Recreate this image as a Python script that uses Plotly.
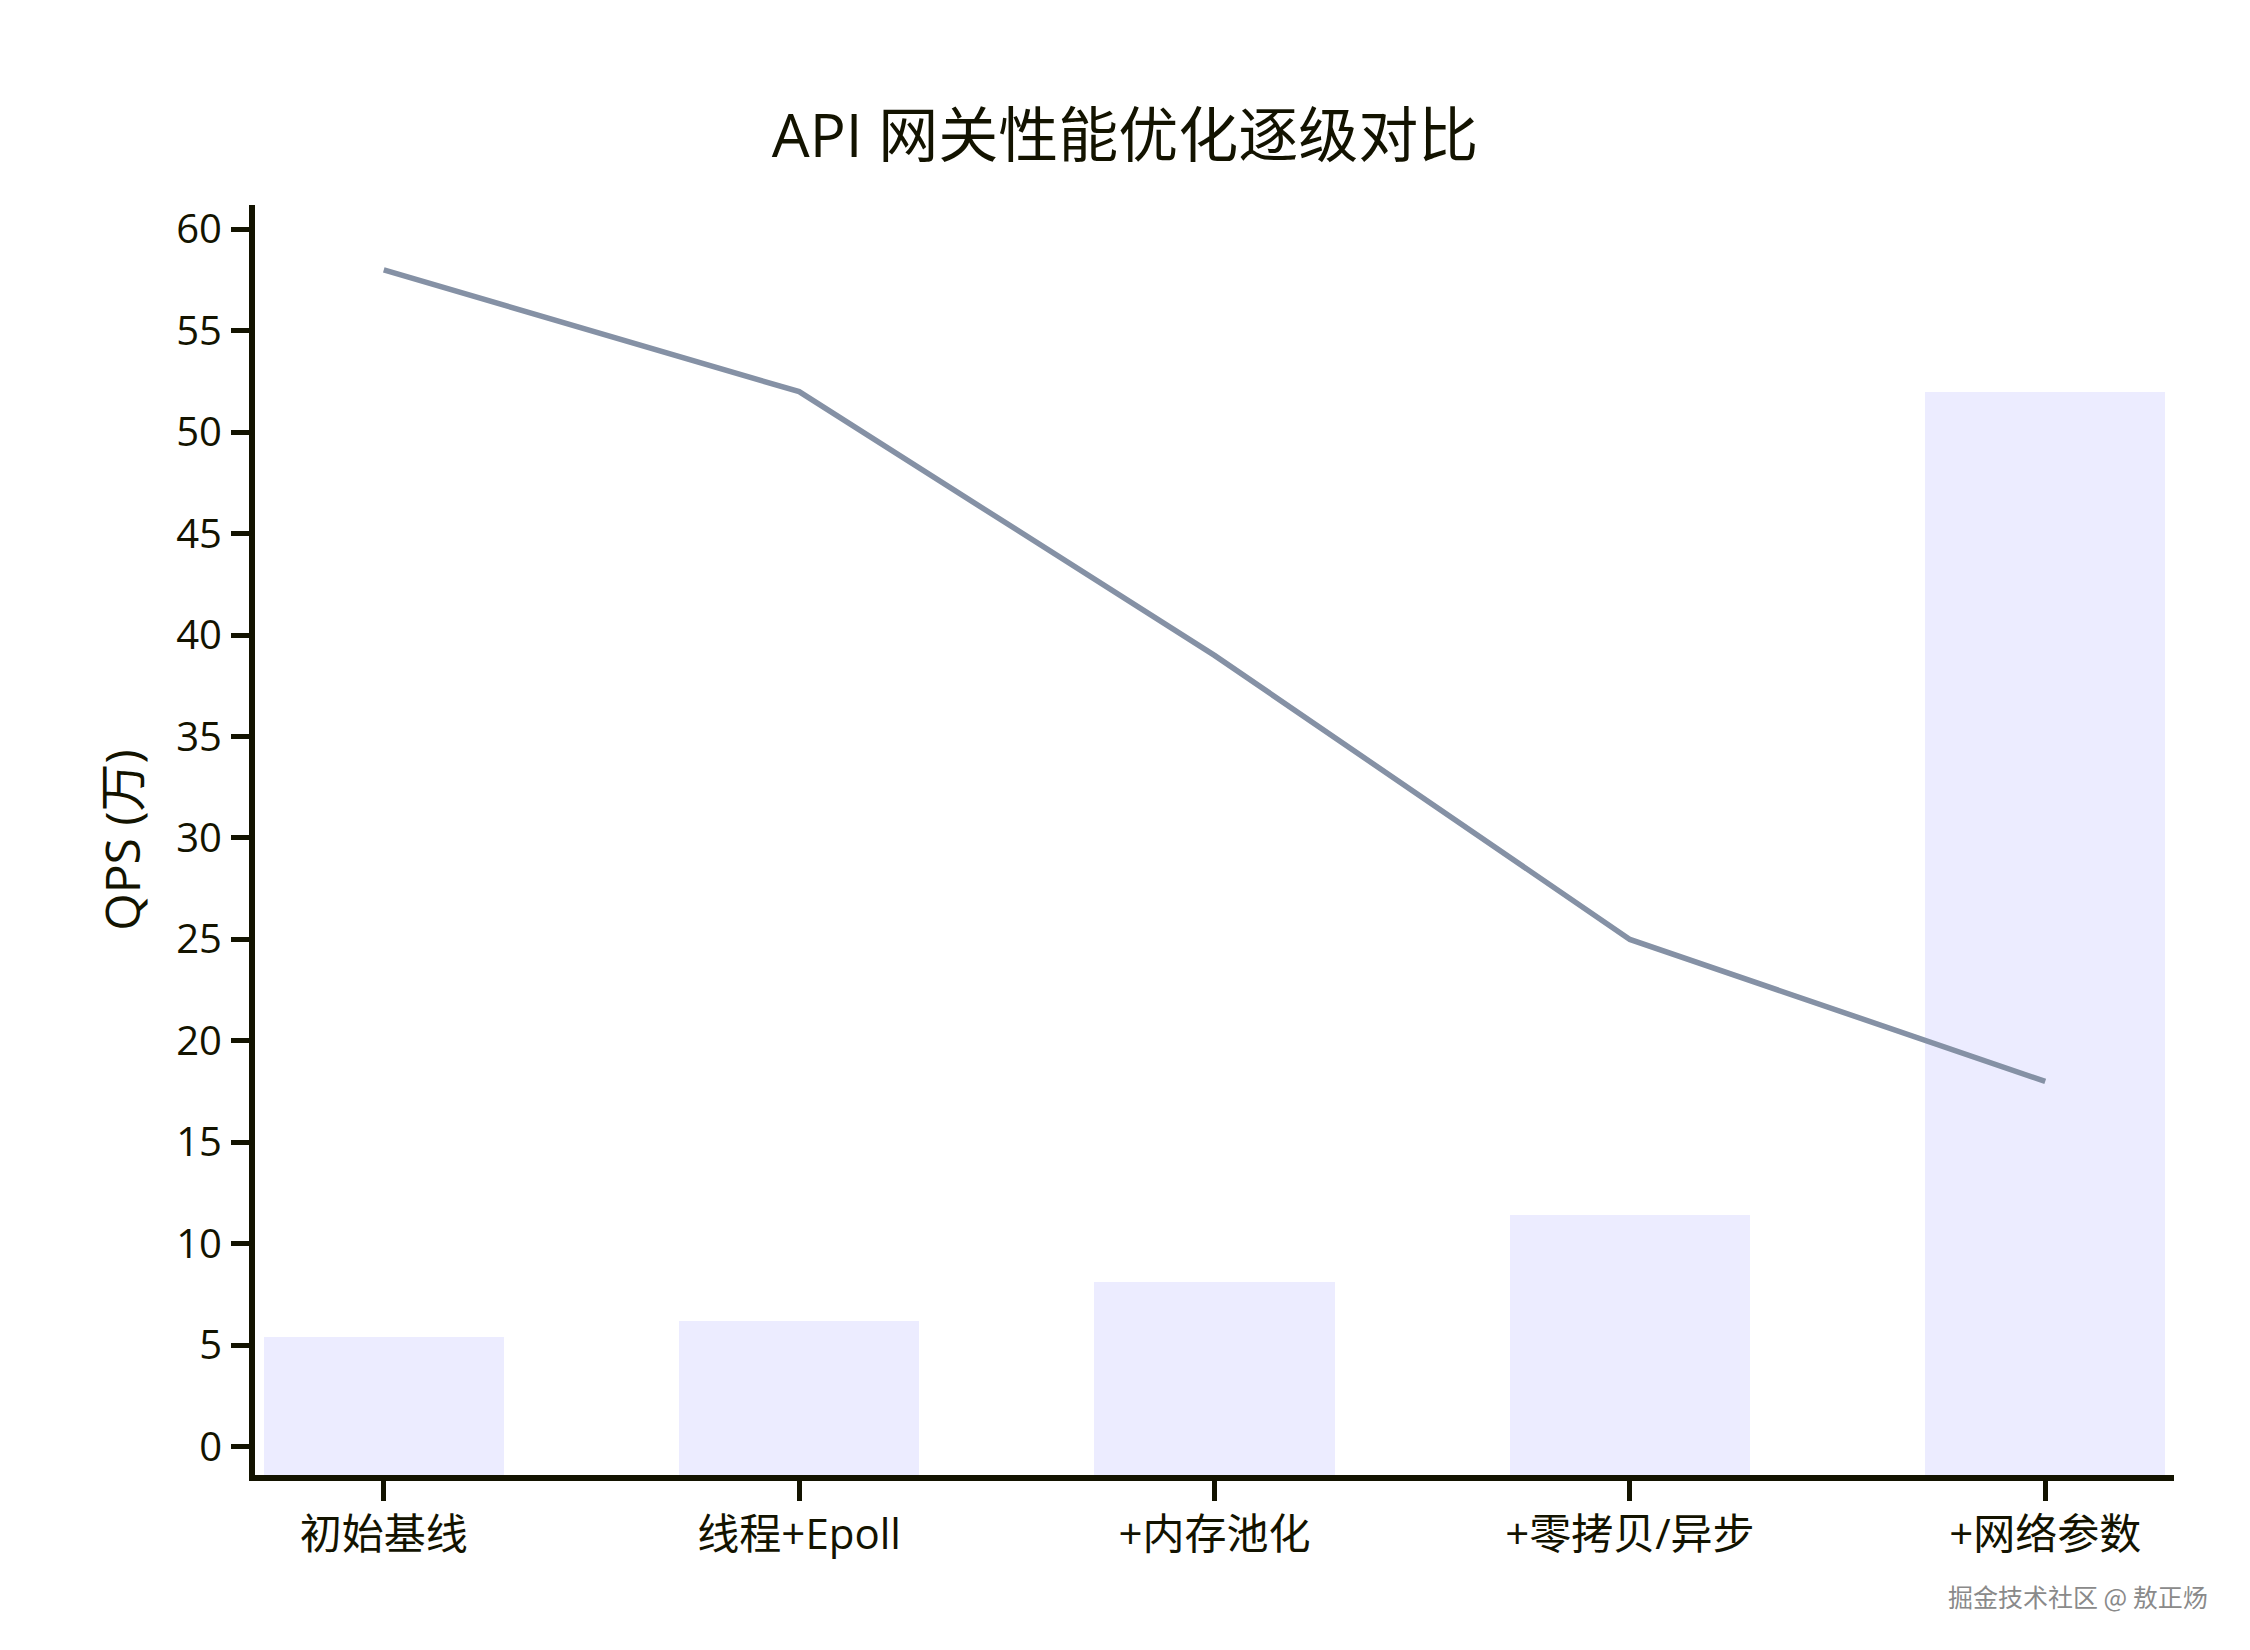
import plotly.graph_objects as go

categories = ["初始基线", "线程+Epoll", "+内存池化", "+零拷贝/异步", "+网络参数"]
bar_values = [5.4, 6.2, 8.1, 11.4, 52]
line_values = [58, 52, 39, 25, 18]
y_ticks = list(range(0, 61, 5))

title_text = "API 网关性能优化逐级对比"
y_title = "QPS (万)"
watermark = "掘金技术社区 @ 敖正炀"

ink = "#131300"
font_fam = "Open Sans, Noto Sans CJK SC, sans-serif"
y_bottom = -1.4

fig = go.Figure()
fig.add_trace(go.Bar(
    x=list(range(len(categories))),
    y=[v - y_bottom for v in bar_values],
    base=y_bottom,
    marker=dict(color="#ECECFF", line=dict(width=0)),
    width=0.578,
))
fig.add_trace(go.Scatter(
    x=list(range(len(categories))), y=line_values,
    mode="lines", line=dict(color="#8591A5", width=5.5),
))

fig.update_layout(
    width=2250, height=1650,
    paper_bgcolor="white", plot_bgcolor="white",
    showlegend=False,
    margin=dict(l=255, r=76, t=205, b=175),
    font=dict(family=font_fam, color=ink),
    title=dict(text=title_text, x=0.5, xanchor="center", y=1 - 136 / 1650, yanchor="middle",
               font=dict(size=60, color=ink, family=font_fam)),
    xaxis=dict(
        range=[-0.31, 4.31],
        tickmode="array", tickvals=list(range(len(categories))), ticktext=categories,
        showline=True, linecolor=ink, linewidth=6,
        ticks="outside", ticklen=20, tickwidth=5, tickcolor=ink,
        showgrid=False, zeroline=False,
        tickfont=dict(size=42, color=ink, family=font_fam),
        ticklabelstandoff=-2,
    ),
    yaxis=dict(
        range=[y_bottom, 61.2],
        tickmode="array", tickvals=y_ticks,
        showline=True, linecolor=ink, linewidth=6,
        ticks="outside", ticklen=18, tickwidth=5, tickcolor=ink,
        showgrid=False, zeroline=False,
        tickfont=dict(size=40, color=ink, family=font_fam),
        ticklabelstandoff=1,
        title=dict(text=y_title, font=dict(size=48, color=ink, family=font_fam), standoff=22),
    ),
    bargap=0,
)

fig.add_annotation(
    text=watermark, xref="paper", yref="paper",
    x=(2210 - 255) / (2250 - 255 - 76), y=-(1596 - 1475) / (1475 - 205),
    xanchor="right", yanchor="middle", showarrow=False,
    font=dict(size=25, color="#8a8a8a", family="Noto Sans CJK SC"),
)

fig.write_html("out.html")
